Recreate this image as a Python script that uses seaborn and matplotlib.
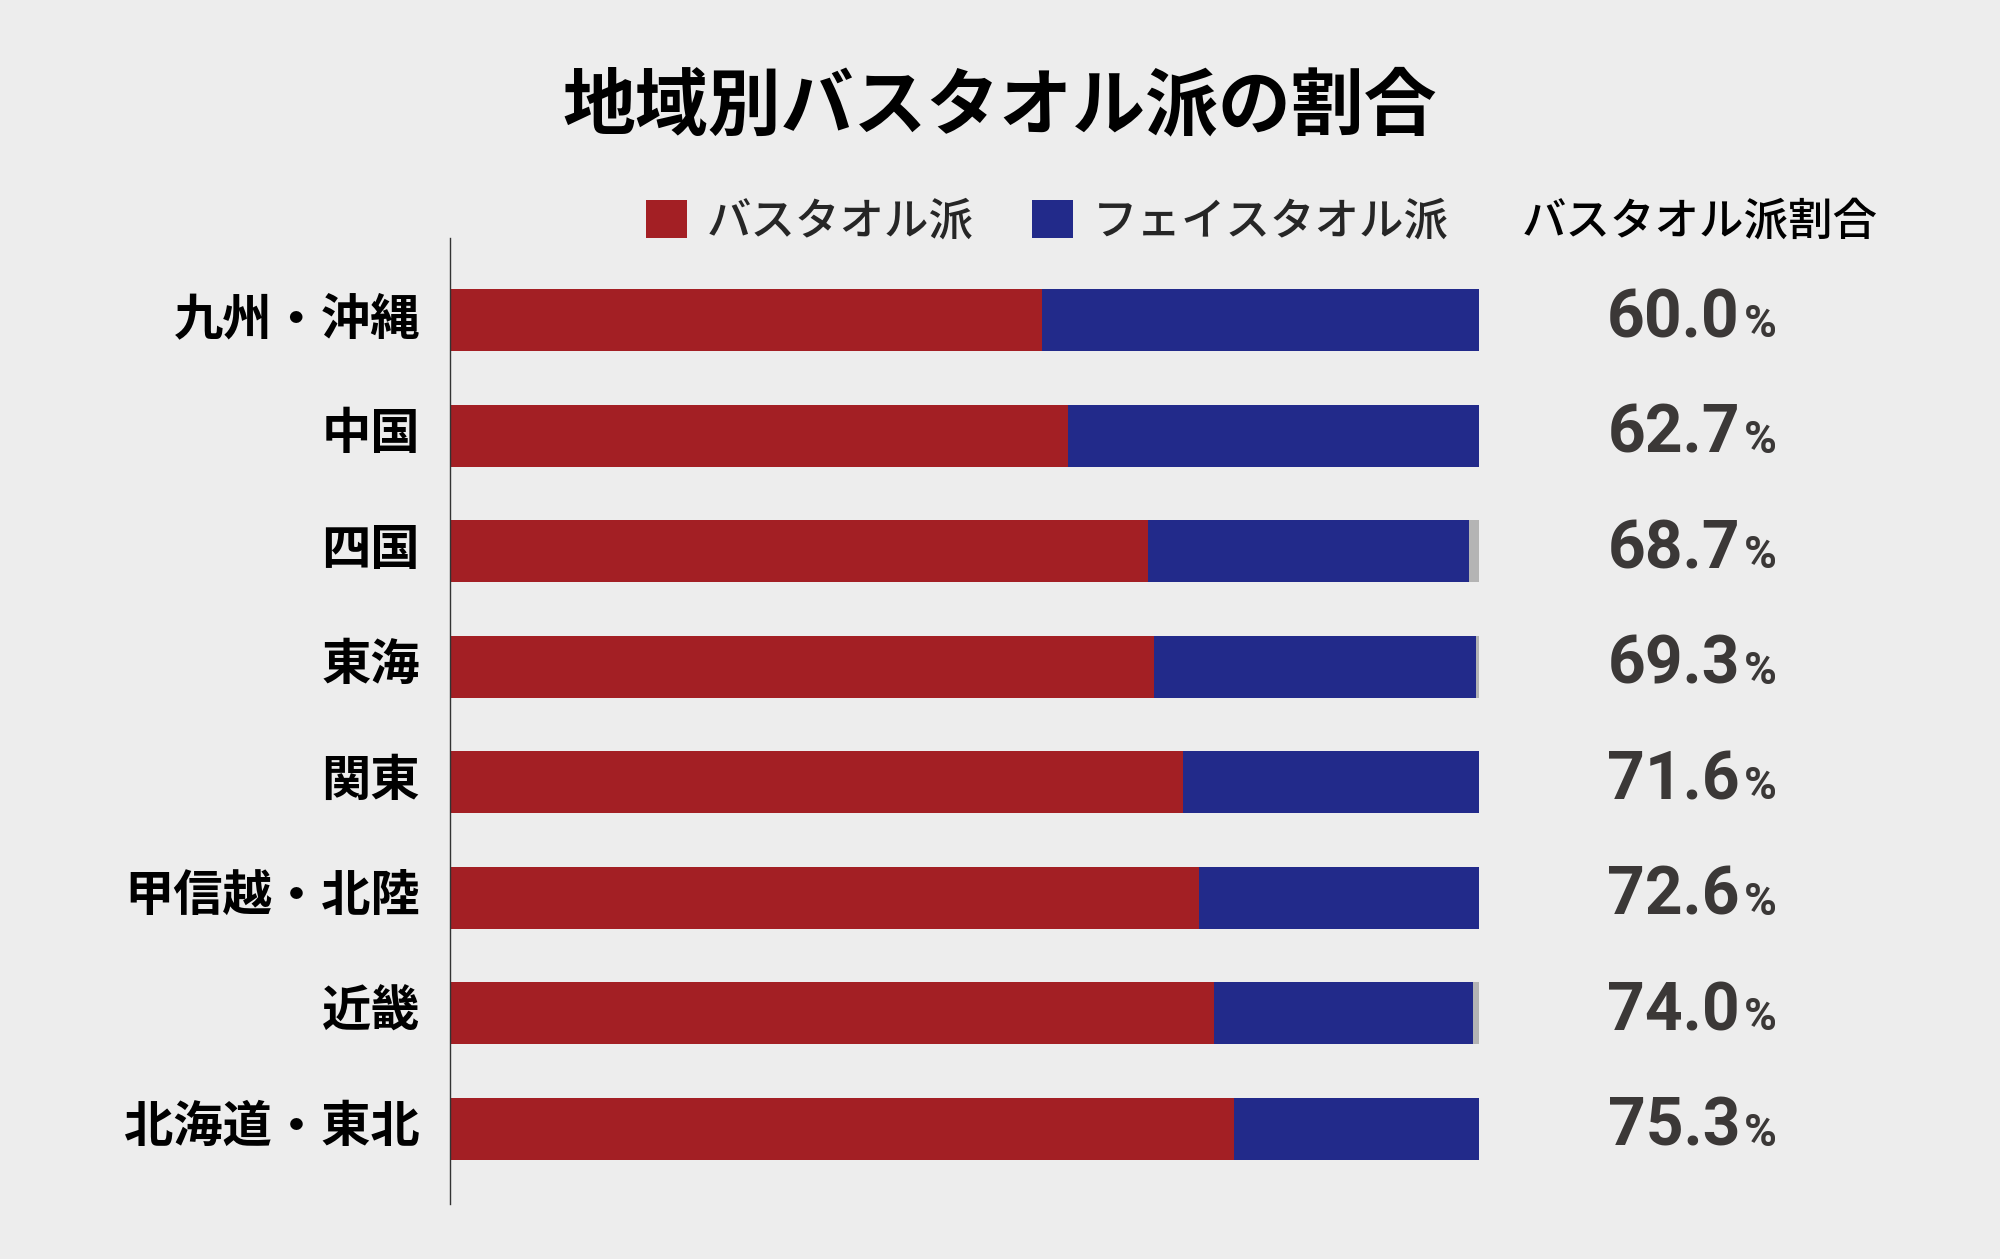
import matplotlib
matplotlib.use('Agg')
import matplotlib.pyplot as plt
import matplotlib.transforms as mtransforms
from matplotlib.patches import Patch
import numpy as np
import pandas as pd
import seaborn as sns

# ---- data ----
regions = ['九州・沖縄', '中国', '四国', '東海', '関東', '甲信越・北陸', '近畿', '北海道・東北']
bath = [57.5, 60.1, 67.8, 68.4, 71.2, 72.8, 74.2, 76.2]     # バスタオル派
face = [42.5, 39.9, 31.2, 31.3, 28.8, 27.2, 25.2, 23.8]     # フェイスタオル派
other = [0.0, 0.0, 1.0, 0.3, 0.0, 0.0, 0.6, 0.0]            # 無回答など
share = ['60.0', '62.7', '68.7', '69.3', '71.6', '72.6', '74.0', '75.3']  # バスタオル派割合 (%)

title = '地域別バスタオル派の割合'
legend_labels = ['バスタオル派', 'フェイスタオル派']
col_header = 'バスタオル派割合'

# ---- style ----
BG = '#ededed'
RED = '#a31f24'
BLUE = '#222a8a'
GRAY = '#b4b4b4'
NUM = '#3b3837'

sns.set_theme(style='white', rc={'axes.facecolor': BG, 'figure.facecolor': BG})
plt.rcParams['font.family'] = ['Noto Sans CJK JP', 'DejaVu Sans']

df = pd.DataFrame({'region': regions, 'bath': bath, 'face': face, 'other': other})
df['bath_face'] = df['bath'] + df['face']
df['total'] = df['bath_face'] + df['other']

W, H = 2000, 1259
fig = plt.figure(figsize=(20, 12.59), dpi=100)
ax = fig.add_axes([450 / W, 1 - 1204 / H, 1029 / W, (1204 - 238) / H])

# stacked bars: draw cumulative totals back to front
bw = 0.537
sns.barplot(data=df, y='region', x='total', orient='h', color=GRAY,
            width=bw, linewidth=0, saturation=1, ax=ax)
sns.barplot(data=df, y='region', x='bath_face', orient='h', color=BLUE,
            width=bw, linewidth=0, saturation=1, ax=ax)
sns.barplot(data=df, y='region', x='bath', orient='h', color=RED,
            width=bw, linewidth=0, saturation=1, ax=ax)

ax.set_xlim(0, 100)
ax.set_ylim(len(regions) - 1 + 0.652, -0.713)
ax.set_xlabel('')
ax.set_ylabel('')
ax.set_xticks([])
for s in ['top', 'right', 'bottom']:
    ax.spines[s].set_visible(False)
ax.spines['left'].set_color('#333333')
ax.spines['left'].set_linewidth(1.0)
ax.tick_params(axis='y', length=0, pad=21.6)
lift = mtransforms.ScaledTranslation(0, 6 / 100, fig.dpi_scale_trans)
for lab in ax.get_yticklabels():
    lab.set_fontsize(35.5)
    lab.set_fontweight('bold')
    lab.set_color('black')
    lab.set_transform(lab.get_transform() + lift)

# title
fig.text(1000 / W, 1 - 107 / H, title, ha='center', va='center',
         fontsize=52.5, fontweight='bold', color='black')

# legend
handles = [Patch(facecolor=RED, edgecolor='none'), Patch(facecolor=BLUE, edgecolor='none')]
fig.legend(handles, legend_labels, loc='center left',
           bbox_to_anchor=(646 / W, 1 - 222 / H), ncol=2, frameon=False,
           handlelength=0.92, handleheight=0.92,
           handletextpad=0.45, columnspacing=1.3, borderpad=0, borderaxespad=0,
           prop={'size': 32, 'weight': 'medium'})

# column header
fig.text(1700 / W, 1 - 222 / H, col_header, ha='center', va='center',
         fontsize=32, color='black', fontweight='medium')

# percentage labels: big number + small "%"
trans = mtransforms.blended_transform_factory(fig.transFigure, ax.transData)
base_off = 17 / ((1204 - 238) / (len(regions) - 1 + 0.652 + 0.713))
for i, v in enumerate(share):
    ax.text(1740 / W, i + base_off, v, transform=trans, ha='right', va='baseline',
            fontsize=47.5, fontweight='bold', color=NUM, family=['Roboto', 'DejaVu Sans'])
    ax.text(1744 / W, i + base_off, '%', transform=trans, ha='left', va='baseline',
            fontsize=32, fontweight='bold', color=NUM, family=['Roboto', 'DejaVu Sans'])

fig.savefig('out.png', dpi=100, facecolor=BG)
